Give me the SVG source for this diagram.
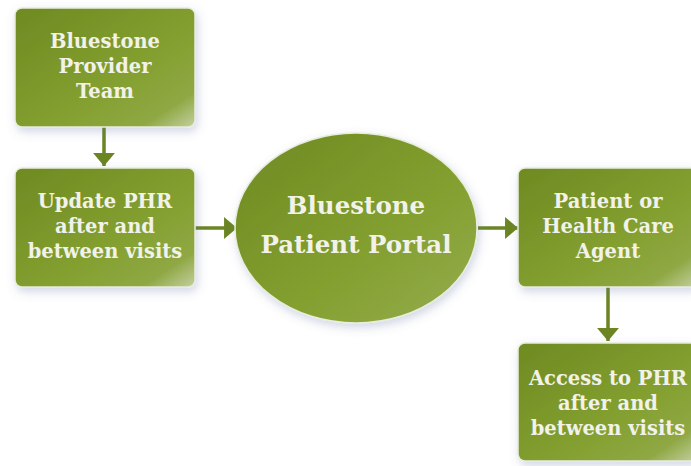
<svg xmlns="http://www.w3.org/2000/svg" width="691" height="466" viewBox="0 0 691 466">
<defs>
<linearGradient id="g" x1="0" y1="0" x2="1" y2="1">
<stop offset="0" stop-color="#6e8a22"/>
<stop offset="0.6" stop-color="#84a030"/>
<stop offset="0.85" stop-color="#8fa844"/>
<stop offset="1" stop-color="#c4d0a0"/>
</linearGradient>
<filter id="sh2" x="-20%" y="-20%" width="140%" height="140%">
<feGaussianBlur in="SourceAlpha" stdDeviation="5" result="b"/>
<feOffset in="b" dx="2" dy="4" result="o"/>
<feFlood flood-color="#6070a0" flood-opacity="0.28"/>
<feComposite in2="o" operator="in" result="s"/>
<feMerge><feMergeNode in="s"/><feMergeNode in="SourceGraphic"/></feMerge>
</filter>
<marker id="ah" viewBox="0 0 13 22" refX="13" refY="11" markerWidth="3.7" markerHeight="6.3" orient="auto" markerUnits="strokeWidth">
<path d="M0,0 L13,11 L0,22 z" fill="#6b8523"/>
</marker>
</defs>
<style>
.box{fill:url(#g);stroke:#e8ecdc;stroke-width:1.5;filter:url(#sh2)}
.t{font-family:"DejaVu Serif","Liberation Serif",serif;font-weight:bold;fill:#f2f2ea;text-anchor:middle;font-size:19.5px}
.tl{font-size:24.5px}
.c{stroke:#6b8523;stroke-width:3.5;fill:none;marker-end:url(#ah)}
</style>
<rect width="691" height="466" fill="#ffffff"/>
<g id="connectors">
<line class="c" x1="104" y1="127" x2="104" y2="166"/>
<line class="c" x1="195" y1="228" x2="237" y2="228"/>
<line class="c" x1="478" y1="228" x2="518" y2="228"/>
<line class="c" x1="608" y1="287" x2="608" y2="341"/>
</g>
<g id="n1">
<rect class="box" x="15" y="8" width="180" height="119" rx="7"/>
<text class="t" x="105" y="48">Bluestone</text>
<text class="t" x="105" y="73">Provider</text>
<text class="t" x="105" y="98">Team</text>
</g>
<g id="n2">
<rect class="box" x="15" y="168" width="180" height="119" rx="7"/>
<text class="t" x="105" y="208">Update PHR</text>
<text class="t" x="105" y="233">after and</text>
<text class="t" x="105" y="258">between visits</text>
</g>
<g id="n3">
<ellipse class="box" cx="356" cy="228" rx="121" ry="95"/>
<text class="t tl" x="356" y="214">Bluestone</text>
<text class="t tl" x="356" y="253">Patient Portal</text>
</g>
<g id="n4">
<rect class="box" x="518" y="168" width="180" height="119" rx="7"/>
<text class="t" x="608" y="208">Patient or</text>
<text class="t" x="608" y="233">Health Care</text>
<text class="t" x="608" y="258">Agent</text>
</g>
<g id="n5">
<rect class="box" x="518" y="343" width="180" height="118" rx="7"/>
<text class="t" x="608" y="385">Access to PHR</text>
<text class="t" x="608" y="410">after and</text>
<text class="t" x="608" y="435">between visits</text>
</g>
</svg>
